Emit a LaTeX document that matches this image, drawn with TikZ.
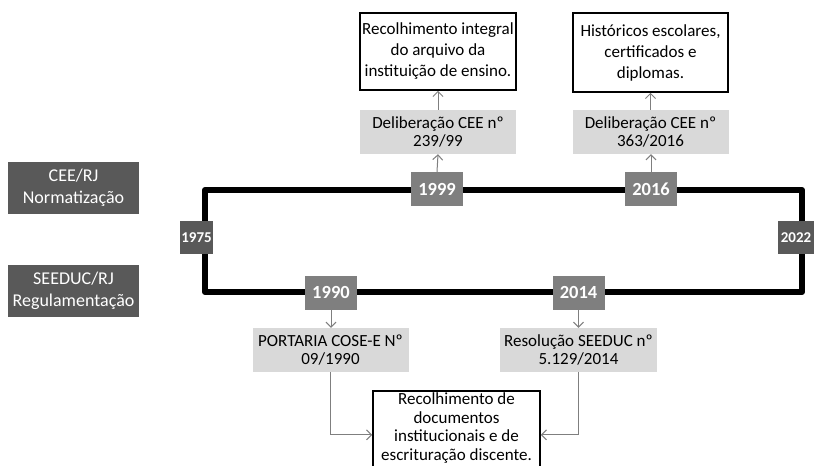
\documentclass[tikz,border=0pt]{standalone}
\usepackage{fontspec}
\setmainfont{Carlito}
\usetikzlibrary{arrows.meta}
\definecolor{darkg}{HTML}{595959}
\definecolor{midg}{HTML}{7F7F7F}
\definecolor{lightg}{HTML}{D9D9D9}
\definecolor{arrg}{HTML}{7F7F7F}
\begin{document}
\begin{tikzpicture}[x=1pt,y=-1pt,
  sidelabel/.style={fill=darkg,text=white,minimum width=131pt,minimum height=52pt,inner sep=0pt,align=center,font=\fontsize{18}{22}\selectfont},
  endyear/.style={fill=darkg,text=white,minimum width=33pt,minimum height=33pt,inner sep=0pt,font=\fontsize{15}{16}\selectfont\bfseries},
  yearbox/.style={fill=midg,text=white,minimum width=52pt,minimum height=34pt,inner sep=0pt,font=\fontsize{18.5}{20}\selectfont\bfseries},
  lawbox/.style={fill=lightg,text=black,minimum width=156pt,minimum height=44pt,inner sep=0pt,align=center,font=\fontsize{17}{17.5}\selectfont},
  resultbox/.style={draw=black,line width=1.6pt,fill=white,text=black,minimum width=156pt,inner sep=0pt,align=center,font=\fontsize{17}{21}\selectfont},
  conn/.style={draw=arrg,line width=1pt,-{Straight Barb[length=5pt,width=10pt]}},
  timeline/.style={draw=black,line width=6pt,line join=round}
]
\useasboundingbox (0,0) rectangle (815,466);
% timeline frame
\coordinate (tl) at (205,190);
\coordinate (br) at (802,292);
\draw[timeline] (tl) rectangle (br);

% side labels
\node[sidelabel] (cee) at (73.5,187.5) {CEE/RJ\\Normatização};
\node[sidelabel] (seeduc) at (73.5,291) {SEEDUC/RJ\\Regulamentação};

% end years
\node[endyear] (y1975) at (196.5,237.5) {1975};
\node[endyear,minimum width=36pt] (y2022) at (796,237.5) {2022};

% years on timeline
\node[yearbox] (y1999) at (437,189) {1999};
\node[yearbox] (y2016) at (651,189) {2016};
\node[yearbox] (y1990) at (331,292.5) {1990};
\node[yearbox] (y2014) at (578.5,292.5) {2014};

% law boxes
\node[lawbox] (d1999) at (438,132) {Deliberação CEE nº\\239/99};
\node[lawbox] (d2016) at (650.5,132) {Deliberação CEE nº\\363/2016};
\node[lawbox] (p1990) at (330.5,350) {PORTARIA COSE-E Nº\\09/1990};
\node[lawbox,minimum width=157pt] (r2014) at (578.5,350) {Resolução SEEDUC nº\\5.129/2014};

% result boxes
\node[resultbox,minimum height=77pt] (t1999) at (438,51.5) {Recolhimento integral\\do arquivo da\\instituição de ensino.};
\node[resultbox,minimum width=155pt,minimum height=79pt] (t2016) at (650.5,52.5) {Históricos escolares,\\certificados e\\diplomas.};
\node[resultbox,minimum width=167pt,minimum height=84pt,anchor=north] (bot) at (456.5,390) {};
\node[anchor=north,inner sep=0pt,align=center,font=\fontsize{17}{18.6}\selectfont] (bottext) at ([yshift=-2.5pt]bot.north) {Recolhimento de\\documentos\\institucionais e de\\escrituração discente.};

% connectors
\draw[conn] (y1999.north) -- (d1999.south);
\draw[conn] (d1999.north) -- (t1999.south);
\draw[conn] (y2016.north) -- (d2016.south -| y2016.north);
\draw[conn] (d2016.north) -- (t2016.south);
\draw[conn] (y1990.south) -- (p1990.north -| y1990.south);
\draw[conn] (y2014.south) -- (r2014.north);
\draw[conn] (p1990.south) |- ([yshift=-2pt]bot.west);
\draw[conn] (r2014.south) |- ([yshift=-2pt]bot.east);
\end{tikzpicture}
\end{document}
